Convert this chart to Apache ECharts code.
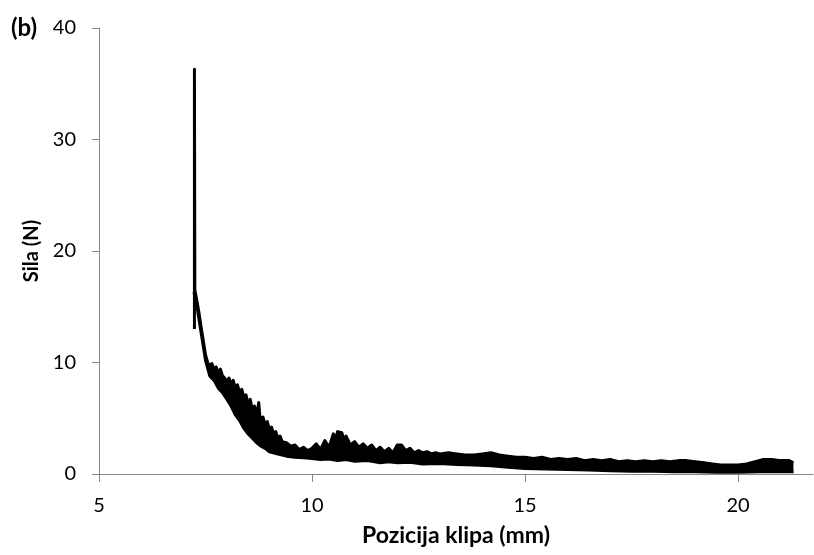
<!DOCTYPE html>
<html>
<head>
<meta charset="utf-8">
<script src="https://cdn.jsdelivr.net/npm/echarts@6/dist/echarts.min.js"></script>
<style>
html,body{margin:0;padding:0;background:#fff;}
#chart{width:814px;height:555px;}
</style>
</head>
<body>
<div id="chart"></div>
<script>
// Tick labels
const xTicks = [5, 10, 15, 20];
const yTicks = [0, 10, 20, 30, 40];

// Initial spike (position mm, force N)
const spikeX = [7.24, 7.24, 7.25];
const spikeY = [13.0, 36.3, 16.5];

// Upper edge of the noisy force band
const upperX = [7.25,7.30,7.35,7.40,7.45,7.50,7.55,7.60,7.65,7.70,7.75,7.80,7.85,7.90,7.95,8.00,8.05,8.10,8.15,8.20,8.25,8.30,8.35,8.40,8.45,8.50,8.55,8.60,8.65,8.70,8.75,8.78,8.85,8.90,8.95,9.00,9.05,9.10,9.15,9.20,9.25,9.30,9.40,9.50,9.60,9.70,9.80,9.90,10.0,10.1,10.2,10.3,10.4,10.5,10.55,10.6,10.7,10.75,10.8,10.9,11.0,11.1,11.2,11.3,11.4,11.5,11.6,11.7,11.8,11.9,12.0,12.1,12.2,12.3,12.4,12.5,12.6,12.7,12.8,12.9,13.0,13.2,13.4,13.6,13.8,14.0,14.2,14.4,14.6,14.8,15.0,15.2,15.4,15.6,15.8,16.0,16.2,16.4,16.6,16.8,17.0,17.2,17.4,17.6,17.8,18.0,18.2,18.4,18.6,18.8,19.0,19.2,19.4,19.6,19.8,20.0,20.2,20.4,20.6,20.8,21.0,21.2,21.3];
const upperY = [16.5,15.5,14.4,13.1,11.9,10.7,10.0,9.7,9.9,9.4,9.6,9.1,9.4,8.8,8.6,8.3,8.6,8.1,8.4,7.7,8.0,7.3,7.6,6.9,7.1,6.3,6.7,5.7,6.1,5.3,6.4,5.0,5.1,4.4,4.7,4.0,4.2,3.6,3.8,3.2,3.4,2.9,2.8,2.5,2.6,2.2,2.4,2.1,2.3,2.7,2.2,3.0,2.4,3.6,3.1,3.8,3.7,3.1,3.4,2.6,2.9,2.4,2.7,2.3,2.6,2.1,2.4,2.0,2.3,1.9,2.6,2.6,2.1,2.3,1.9,2.1,1.9,2.0,1.8,1.9,1.8,1.9,1.8,1.7,1.7,1.8,1.9,1.7,1.6,1.5,1.5,1.4,1.5,1.3,1.4,1.3,1.4,1.2,1.3,1.2,1.3,1.1,1.2,1.1,1.2,1.1,1.2,1.1,1.2,1.2,1.1,1.0,0.9,0.8,0.8,0.8,0.9,1.1,1.3,1.3,1.2,1.2,1.0];

// Lower edge of the noisy force band
const lowerX = [7.23,7.30,7.40,7.50,7.60,7.70,7.80,7.90,8.00,8.10,8.20,8.30,8.40,8.50,8.60,8.70,8.80,8.90,9.00,9.20,9.40,9.60,9.80,10.0,10.2,10.4,10.6,10.8,11.0,11.3,11.6,11.8,12.0,12.3,12.6,13.0,13.4,13.8,14.2,14.6,15.0,15.5,16.0,16.5,17.0,17.5,18.0,18.5,19.0,19.5,20.0,20.5,21.0,21.3];
const lowerY = [16.3,15.0,12.6,10.2,8.8,8.4,7.7,7.3,6.7,6.1,5.3,4.8,4.1,3.6,3.2,2.8,2.5,2.3,2.0,1.8,1.6,1.5,1.45,1.4,1.3,1.35,1.2,1.3,1.15,1.2,1.0,1.1,1.0,1.05,0.9,0.95,0.85,0.8,0.75,0.6,0.5,0.45,0.4,0.35,0.3,0.25,0.25,0.2,0.2,0.15,0.15,0.2,0.2,0.2];

const zip = (a, b) => a.map((v, i) => [v, b[i]]);
const FONT = 'Lato, "Open Sans", sans-serif';
const AXIS = '#878787';

const chart = echarts.init(document.getElementById('chart'), null, {renderer: 'canvas'});
chart.setOption({
  animation: false,
  backgroundColor: '#fff',
  title: {
    text: '(b)', left: 11, top: 16, padding: 0,
    textStyle: {fontFamily: FONT, fontSize: 24, fontWeight: 'bold', color: '#000'}
  },
  grid: {left: 99, top: 28, right: 1, bottom: 81, containLabel: false},
  xAxis: {
    type: 'value', min: xTicks[0], max: 21.76, interval: 5, z: 10,
    name: 'Pozicija klipa (mm)', nameLocation: 'middle', nameGap: 50,
    nameTextStyle: {fontFamily: FONT, fontSize: 23, fontWeight: 'bold', color: '#000'},
    axisLine: {onZero: false, lineStyle: {color: AXIS, width: 1}},
    axisTick: {show: true, inside: false, length: 8, lineStyle: {color: AXIS}},
    axisLabel: {fontFamily: FONT, fontSize: 20, color: '#000', margin: 22, showMaxLabel: false,
      formatter: v => xTicks.includes(v) ? String(v) : ''},
    splitLine: {show: false}
  },
  yAxis: {
    type: 'value', min: yTicks[0], max: yTicks[yTicks.length - 1], interval: 10, z: 10,
    name: 'Sila (N)', nameLocation: 'middle', nameGap: 56, nameRotate: 90,
    nameTextStyle: {fontFamily: FONT, fontSize: 20, fontWeight: 'bold', color: '#000'},
    axisLine: {show: true, lineStyle: {color: AXIS, width: 1}},
    axisTick: {show: true, inside: false, length: 7, lineStyle: {color: AXIS}},
    axisLabel: {fontFamily: FONT, fontSize: 20, color: '#000', margin: 23},
    splitLine: {show: false}
  },
  series: [
    {
      name: 'upper', type: 'line', data: zip(upperX, upperY), showSymbol: false, z: 2,
      lineStyle: {color: '#000', width: 3, join: 'round'},
      areaStyle: {color: '#000', opacity: 1}
    },
    {
      name: 'lower', type: 'line', data: zip(lowerX, lowerY), showSymbol: false, z: 3,
      lineStyle: {color: '#000', width: 3, join: 'round'},
      areaStyle: {color: '#fff', opacity: 1}
    },
    {
      name: 'spike', type: 'line', data: zip(spikeX, spikeY), showSymbol: false, z: 4,
      lineStyle: {color: '#000', width: 3, join: 'round'}
    }
  ]
});
</script>
</body>
</html>
